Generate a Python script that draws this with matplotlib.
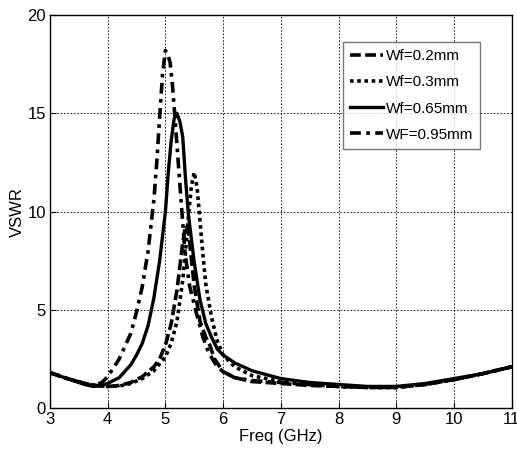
import matplotlib
matplotlib.use('Agg')
import matplotlib.pyplot as plt

plt.rcParams['font.family'] = ['Liberation Sans', 'DejaVu Sans']

# Wf = 0.2 mm (dashed)
f_02 = [3.0, 3.3, 3.6, 3.8, 4.0, 4.2, 4.4, 4.6, 4.8, 4.9, 5.0, 5.1, 5.2, 5.25, 5.3, 5.35,
        5.4, 5.45, 5.5, 5.6, 5.7, 5.77, 5.85, 6.0, 6.2, 6.5, 7.0, 7.5, 8.0, 8.5, 9.0, 9.5,
        10.0, 10.5, 11.0]
v_02 = [1.8, 1.5, 1.25, 1.15, 1.1, 1.15, 1.3, 1.6, 2.1, 2.5, 3.2, 4.3, 6.0, 7.2, 8.4, 9.3,
        9.0, 7.6, 6.2, 4.4, 3.6, 3.2, 2.5, 1.85, 1.55, 1.35, 1.25, 1.15, 1.1, 1.05, 1.05, 1.2,
        1.45, 1.75, 2.1]

# Wf = 0.3 mm (dotted)
f_03 = [3.0, 3.3, 3.6, 3.8, 4.0, 4.2, 4.4, 4.6, 4.8, 5.0, 5.1, 5.2, 5.3, 5.35, 5.4, 5.45,
        5.5, 5.55, 5.6, 5.65, 5.7, 5.8, 5.9, 6.0, 6.2, 6.5, 7.0, 7.5, 8.0, 8.5, 9.0, 9.5,
        10.0, 10.5, 11.0]
v_03 = [1.8, 1.5, 1.25, 1.15, 1.1, 1.12, 1.25, 1.5, 1.9, 2.6, 3.3, 4.4, 6.5, 8.0, 9.8, 11.3,
        12.0, 11.2, 9.5, 7.8, 6.3, 4.6, 3.4, 2.7, 2.1, 1.65, 1.35, 1.2, 1.1, 1.05, 1.05, 1.2,
        1.45, 1.75, 2.1]

# Wf = 0.65 mm (solid)
f_065 = [3.0, 3.3, 3.6, 3.75, 3.9, 4.0, 4.2, 4.4, 4.5, 4.6, 4.7, 4.8, 4.9, 5.0, 5.05, 5.1,
         5.15, 5.2, 5.25, 5.3, 5.35, 5.4, 5.5, 5.6, 5.7, 5.8, 5.9, 6.0, 6.2, 6.5, 7.0, 7.5,
         8.0, 8.5, 9.0, 9.5, 10.0, 10.5, 11.0]
v_065 = [1.8, 1.5, 1.2, 1.1, 1.15, 1.25, 1.55, 2.2, 2.7, 3.3, 4.2, 5.6, 7.5, 10.0, 12.0, 13.6,
         14.7, 15.0, 14.6, 13.8, 11.6, 9.8, 7.4, 5.5, 4.3, 3.6, 3.0, 2.7, 2.3, 1.9, 1.5, 1.3,
         1.2, 1.1, 1.1, 1.25, 1.5, 1.75, 2.1]

# Wf = 0.95 mm (dash-dot)
f_095 = [3.0, 3.3, 3.6, 3.75, 3.9, 4.0, 4.2, 4.4, 4.5, 4.6, 4.7, 4.8, 4.85, 4.9, 4.95, 5.0,
         5.05, 5.08, 5.12, 5.16, 5.22, 5.28, 5.34, 5.42, 5.54, 5.65, 5.75, 5.9, 6.0, 6.2, 6.5,
         7.0, 7.5, 8.0, 8.5, 9.0, 9.5, 10.0, 10.5, 11.0]
v_095 = [1.8, 1.5, 1.25, 1.15, 1.3, 1.6, 2.5, 3.8, 4.9, 6.2, 8.0, 10.6, 12.5, 14.8, 17.0, 18.2,
         17.9, 17.6, 16.5, 15.0, 12.6, 10.2, 7.9, 6.2, 4.8, 3.6, 2.8, 2.1, 1.85, 1.55, 1.4,
         1.3, 1.2, 1.1, 1.05, 1.05, 1.2, 1.45, 1.75, 2.1]

fig = plt.figure(figsize=(5.17, 4.59), dpi=100)
ax = fig.add_axes([0.0967, 0.111, 0.893, 0.856])

ax.plot(f_02, v_02, color='black', linestyle=(0, (3, 1.2)), linewidth=2.6, label='Wf=0.2mm')
ax.plot(f_03, v_03, color='black', linestyle=(0, (1, 1)), linewidth=2.6, label='Wf=0.3mm')
ax.plot(f_065, v_065, color='black', linestyle='-', linewidth=2.4, label='Wf=0.65mm')
ax.plot(f_095, v_095, color='black', linestyle=(0, (3, 1.5, 1, 1.5)), linewidth=2.6,
        label='WF=0.95mm')

ax.set_xlim(3, 11)
ax.set_ylim(0, 20)
ax.set_xticks(range(3, 12))
ax.set_yticks([0, 5, 10, 15, 20])
ax.tick_params(direction='in', labelsize=12, length=4, pad=3)
ax.grid(True, color='black', linestyle=(0, (2, 2)), linewidth=0.6)
for s in ax.spines.values():
    s.set_linewidth(1.0)

ax.set_xlabel('Freq (GHz)', fontsize=12, labelpad=1)
ax.set_ylabel('VSWR', fontsize=12, labelpad=2)

leg = ax.legend(loc='upper left', bbox_to_anchor=(0.634, 0.931), fontsize=11,
                frameon=True, fancybox=False, handlelength=2.2, handletextpad=0.2,
                borderpad=0.45, labelspacing=0.8, borderaxespad=0)
leg.get_frame().set_edgecolor('#555555')
leg.get_frame().set_linewidth(1.0)

fig.savefig('out.png', dpi=100)
